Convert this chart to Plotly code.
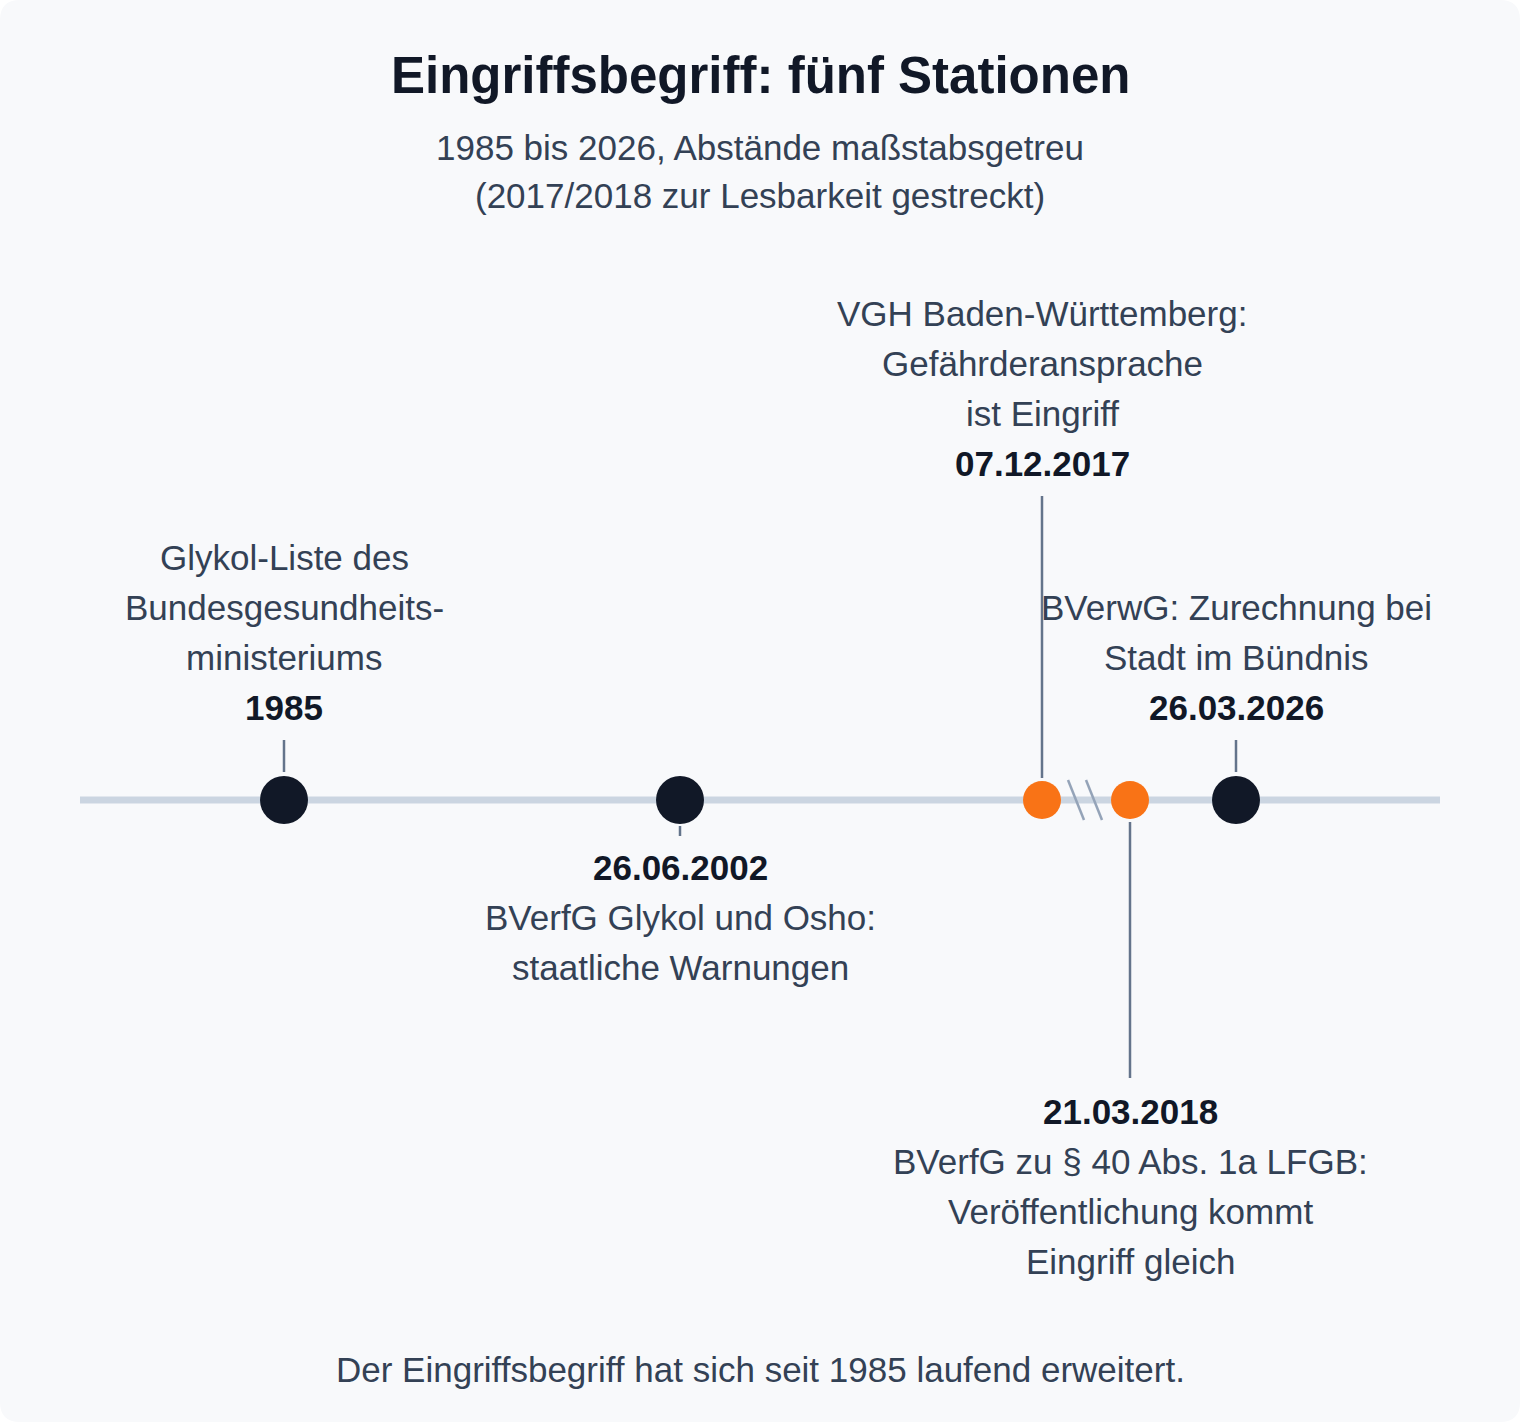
import plotly.graph_objects as go

W, H = 1520, 1422
FONT = "Liberation Sans, Arial, sans-serif"

# events along the timeline (position = place on the drawn track, 2017/2018 stretched)
dates = ["1985", "26.06.2002", "07.12.2017", "21.03.2018", "26.03.2026"]
track_pos = [284, 680, 1042, 1130, 1236]
highlight = [False, False, True, True, False]
side = ["above", "below", "above", "below", "above"]
texts = [
    ["Glykol-Liste des", "Bundesgesundheits-", "ministeriums"],
    ["BVerfG Glykol und Osho:", "staatliche Warnungen"],
    ["VGH Baden-Württemberg:", "Gefährderansprache", "ist Eingriff"],
    ["BVerfG zu § 40 Abs. 1a LFGB:", "Veröffentlichung kommt", "Eingriff gleich"],
    ["BVerwG: Zurechnung bei", "Stadt im Bündnis"],
]
# connector stems (start, end) for each event
stems = [(740, 772), (826, 836), (496, 778), (822, 1078), (740, 772)]
# first line of each label block
label_top = [557, 867, 313, 1111, 607]

DARK, ORANGE, TRACK, STEM, TXT = "#111827", "#f97316", "#cbd5e1", "#64748b", "#334155"
LINE_Y = 800

fig = go.Figure()

shapes = [
    dict(type="path", xref="x", yref="y",
         path="M 20 0 L 1500 0 Q 1520 0 1520 20 L 1520 1402 Q 1520 1422 1500 1422 "
              "L 20 1422 Q 0 1422 0 1402 L 0 20 Q 0 0 20 0 Z",
         fillcolor="#f8f9fb", line=dict(width=0), layer="below"),
    dict(type="line", x0=80, x1=1440, y0=LINE_Y, y1=LINE_Y,
         line=dict(color=TRACK, width=7), layer="below"),
]
# axis break marks
for bx in (1062, 1080):
    shapes.append(dict(type="line", x0=bx + 6, x1=bx + 22, y0=LINE_Y - 20, y1=LINE_Y + 20,
                       line=dict(color="#94a3b8", width=2.5)))
for (s0, s1), x in zip(stems, track_pos):
    shapes.append(dict(type="line", x0=x, x1=x, y0=s0, y1=s1,
                       line=dict(color=STEM, width=2.5), layer="below"))

fig.add_trace(go.Scatter(
    x=track_pos, y=[LINE_Y] * len(track_pos), mode="markers",
    marker=dict(size=[38 if h else 48 for h in highlight],
                color=[ORANGE if h else DARK for h in highlight],
                opacity=1, line=dict(width=0)),
    hoverinfo="skip", showlegend=False))

ann = []
for x, d, lines, sd, top in zip(track_pos, dates, texts, side, label_top):
    if sd == "above":
        rows = [(t, False) for t in lines] + [(d, True)]
    else:
        rows = [(d, True)] + [(t, False) for t in lines]
    for i, (t, bold) in enumerate(rows):
        ann.append(dict(x=x, y=top + 50 * i, text=f"<b>{t}</b>" if bold else t,
                        showarrow=False, xanchor="center", yanchor="middle",
                        font=dict(family=FONT, size=35,
                                  color=DARK if bold else TXT)))

ann += [
    dict(x=760, y=75, text="<b>Eingriffsbegriff: fünf Stationen</b>", showarrow=False,
         yanchor="middle", font=dict(family=FONT, size=51, color=DARK)),
    dict(x=760, y=147, text="1985 bis 2026, Abstände maßstabsgetreu", showarrow=False,
         yanchor="middle", font=dict(family=FONT, size=35, color=TXT)),
    dict(x=760, y=195, text="(2017/2018 zur Lesbarkeit gestreckt)", showarrow=False,
         yanchor="middle", font=dict(family=FONT, size=35, color=TXT)),
    dict(x=760, y=1369, text="Der Eingriffsbegriff hat sich seit 1985 laufend erweitert.",
         showarrow=False, yanchor="middle", font=dict(family=FONT, size=35, color=TXT)),
]

fig.update_layout(
    width=W, height=H, margin=dict(l=0, r=0, t=0, b=0),
    paper_bgcolor="white", plot_bgcolor="white",
    xaxis=dict(range=[0, W], visible=False, fixedrange=True),
    yaxis=dict(range=[H, 0], visible=False, fixedrange=True),
    shapes=shapes, annotations=ann,
)

fig.write_html("out.html", config={"displayModeBar": False},
               post_script="document.body.style.margin='0';")
